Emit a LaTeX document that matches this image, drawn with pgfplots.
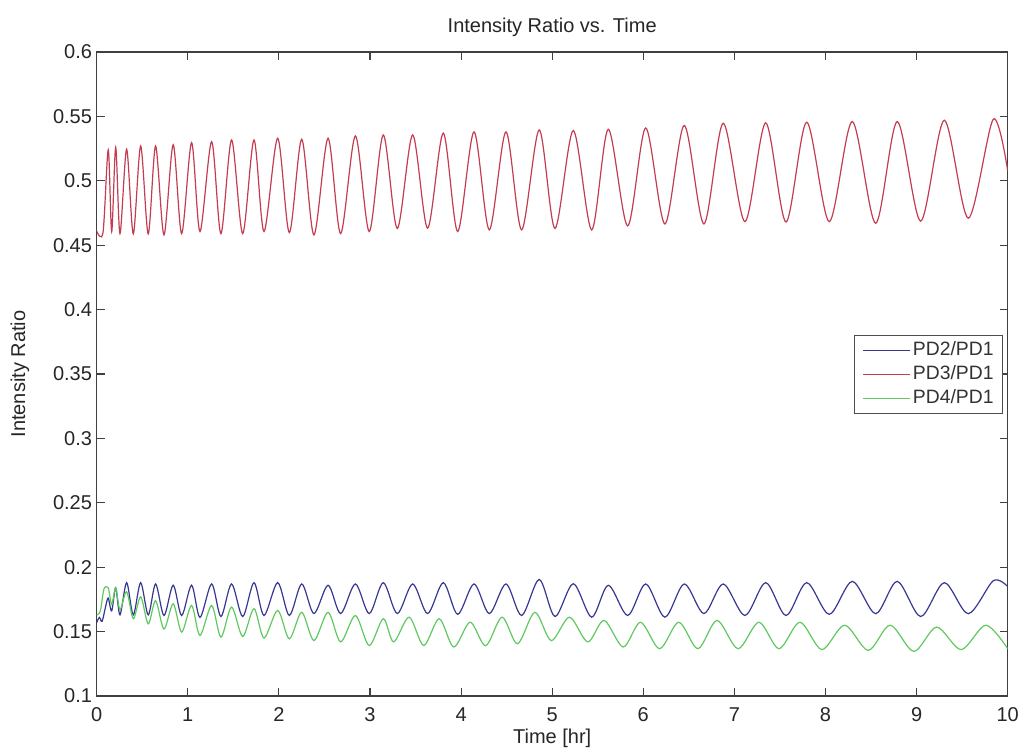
\documentclass[border=0pt]{standalone}
\usepackage{fontspec}
\setmainfont{Liberation Sans}
\usepackage{pgfplots}
\pgfplotsset{compat=1.18}
\definecolor{pdblue}{RGB}{55,55,145}
\definecolor{pdred}{RGB}{195,60,80}
\definecolor{pdgreen}{RGB}{95,200,95}
\begin{document}
\begin{tikzpicture}
\path[use as bounding box] (-72.5pt,-44.25pt) rectangle (695.5pt,522pt);
\begin{axis}[
  at={(0pt,0pt)}, anchor=south west,
  scale only axis, width=683.25pt, height=483pt,
  xmin=0, xmax=10, ymin=0.1, ymax=0.6,
  xtick={0,1,2,3,4,5,6,7,8,9,10},
  ytick={0.1,0.15,0.2,0.25,0.3,0.35,0.4,0.45,0.5,0.55,0.6},
  yticklabels={0.1,0.15,0.2,0.25,0.3,0.35,0.4,0.45,0.5,0.55,0.6},
  /pgf/number format/assume math mode=true,
  tick align=inside, major tick length=6pt,
  axis line style={black!75, line width=0.8pt},
  tick style={black!75, line width=0.8pt},
  font=\fontsize{15}{18}\selectfont,
  every tick label/.append style={text=black!85},
  xticklabel style={anchor=base, yshift=-18.9pt},
  title={Intensity Ratio vs. Time},
  title style={at={(axis description cs:0.5,1.018)}, anchor=base, text=black!85},
  xlabel={Time [hr]},
  xlabel style={at={(axis description cs:0.5,-0.0745)}, anchor=base, text=black!85},
  ylabel={Intensity Ratio},
  ylabel style={at={(axis description cs:-0.0842,0.5)}, anchor=center, text=black!85},
  legend style={at={(axis description cs:0.9952,0.5606)}, anchor=north east,
    draw=black!70, line width=0.6pt, fill=white, text=black!80,
    font=\fontsize{14.5}{17}\selectfont,
    inner xsep=6pt, inner ysep=3.5pt, row sep=2.5pt, column sep=1pt,
    nodes={inner sep=1pt, text height=10.5pt, text depth=3pt}},
  legend cell align=left,
  legend image code/.code={\draw[#1] (0pt,0pt) -- (35pt,0pt);},
]
\addplot[pdblue, line width=0.9pt, smooth] coordinates {
(0,0.157) (0.03,0.161) (0.06,0.158) (0.10,0.170) (0.127,0.176) (0.165,0.166)
(0.209,0.184) (0.256,0.163) (0.329,0.188) (0.402,0.163) (0.483,0.188) (0.566,0.163)
(0.647,0.187) (0.739,0.1625) (0.840,0.186) (0.933,0.1625) (1.042,0.186) (1.134,0.161)
(1.262,0.187) (1.364,0.1617) (1.481,0.187) (1.603,0.1617) (1.727,0.188) (1.837,0.1625)
(1.987,0.188) (2.115,0.1625) (2.251,0.187) (2.385,0.164) (2.540,0.186) (2.678,0.164)
(2.840,0.187) (2.992,0.164) (3.146,0.188) (3.300,0.164) (3.469,0.187) (3.633,0.164)
(3.805,0.188) (3.963,0.1634) (4.142,0.187) (4.310,0.164) (4.493,0.187) (4.665,0.1625)
(4.858,0.1905) (5.031,0.1617) (5.232,0.1872) (5.434,0.1612) (5.616,0.186) (5.829,0.1625)
(6.027,0.187) (6.238,0.1612) (6.450,0.187) (6.666,0.164) (6.878,0.187) (7.116,0.1625)
(7.344,0.188) (7.567,0.1625) (7.794,0.188) (8.042,0.1634) (8.294,0.189) (8.551,0.1639)
(8.788,0.189) (9.045,0.1617) (9.304,0.188) (9.568,0.1639) (9.842,0.1895) (10,0.185)
};
\addlegendentry{PD2/PD1}
\addplot[pdred, line width=0.9pt, smooth] coordinates {
(0,0.461) (0.07,0.460) (0.127,0.524) (0.165,0.4606) (0.209,0.526) (0.256,0.459)
(0.329,0.5245) (0.402,0.4588) (0.483,0.527) (0.566,0.4588) (0.647,0.527) (0.739,0.458)
(0.840,0.528) (0.933,0.459) (1.042,0.5296) (1.134,0.4606) (1.262,0.5304) (1.364,0.459)
(1.481,0.5317) (1.603,0.459) (1.727,0.5317) (1.837,0.4606) (1.987,0.533) (2.115,0.4598)
(2.251,0.5322) (2.385,0.458) (2.540,0.533) (2.678,0.459) (2.840,0.5348) (2.992,0.4606)
(3.146,0.5356) (3.300,0.463) (3.469,0.5356) (3.633,0.4632) (3.805,0.537) (3.963,0.4606)
(4.142,0.538) (4.310,0.4619) (4.493,0.538) (4.665,0.4619) (4.858,0.5395) (5.031,0.463)
(5.232,0.539) (5.434,0.4619) (5.616,0.540) (5.829,0.465) (6.027,0.541) (6.238,0.4665)
(6.450,0.543) (6.666,0.4665) (6.878,0.5447) (7.116,0.4683) (7.344,0.545) (7.567,0.468)
(7.794,0.5455) (8.042,0.4683) (8.294,0.546) (8.551,0.467) (8.788,0.546) (9.045,0.4687)
(9.304,0.547) (9.568,0.471) (9.842,0.5478) (10,0.508)
};
\addlegendentry{PD3/PD1}
\addplot[pdgreen, line width=0.9pt, smooth] coordinates {
(0,0.163) (0.04,0.166) (0.08,0.183) (0.127,0.184) (0.165,0.171) (0.209,0.184)
(0.256,0.167) (0.329,0.181) (0.402,0.160) (0.483,0.177) (0.566,0.156) (0.647,0.174)
(0.739,0.152) (0.840,0.1716) (0.933,0.1496) (1.042,0.1703) (1.134,0.147) (1.262,0.1703)
(1.364,0.1457) (1.481,0.169) (1.603,0.1462) (1.727,0.1678) (1.837,0.145) (1.987,0.1664)
(2.115,0.1444) (2.251,0.165) (2.385,0.143) (2.540,0.165) (2.678,0.142) (2.840,0.1625)
(2.992,0.1392) (3.146,0.160) (3.26,0.142) (3.43,0.1612) (3.59,0.1392) (3.76,0.160)
(3.92,0.138) (4.10,0.1573) (4.27,0.139) (4.45,0.1612) (4.62,0.1405) (4.81,0.165)
(4.99,0.143) (5.19,0.1612) (5.39,0.142) (5.57,0.1587) (5.78,0.138) (5.97,0.1573)
(6.18,0.1367) (6.39,0.1573) (6.60,0.1367) (6.81,0.1587) (7.04,0.1367) (7.27,0.1573)
(7.49,0.1367) (7.72,0.1573) (7.96,0.136) (8.21,0.155) (8.47,0.1354) (8.71,0.155)
(8.97,0.1346) (9.22,0.1535) (9.49,0.136) (9.76,0.155) (10,0.1367)
};
\addlegendentry{PD4/PD1}
\end{axis}
\end{tikzpicture}
\end{document}
